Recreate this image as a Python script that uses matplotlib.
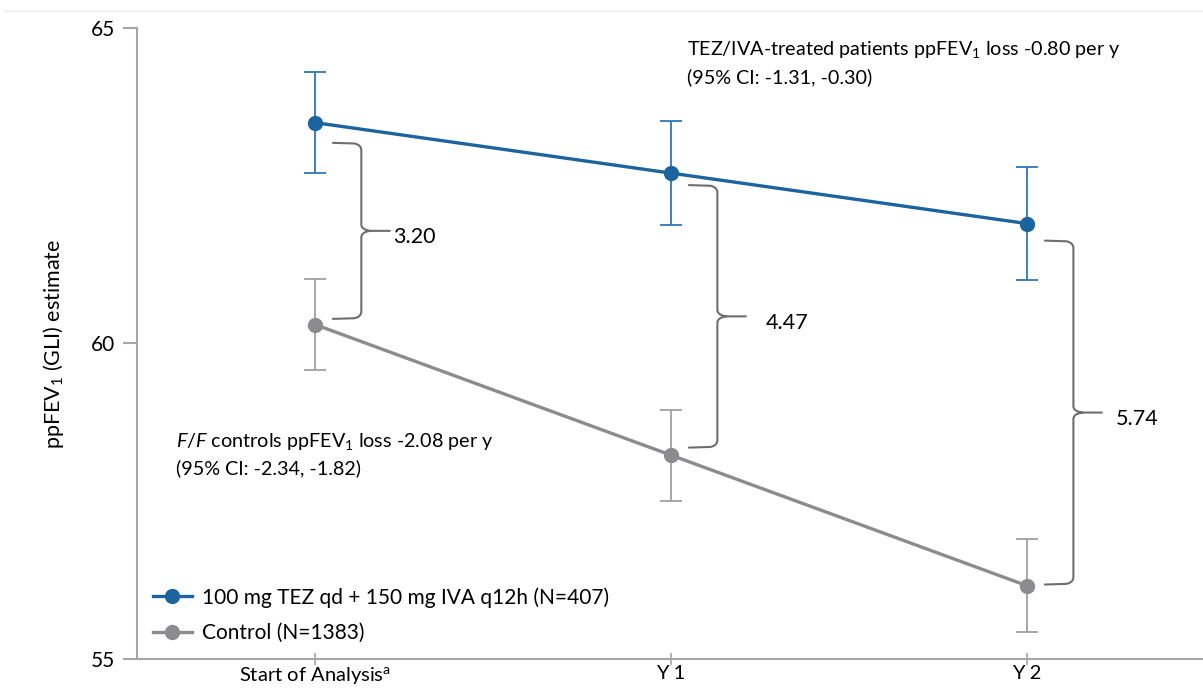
import matplotlib
matplotlib.use('Agg')
import numpy as np
import matplotlib.pyplot as plt
from matplotlib.path import Path
from matplotlib.patches import PathPatch
from matplotlib.lines import Line2D

plt.rcParams['font.family'] = ['Lato', 'DejaVu Sans']
plt.rcParams['mathtext.fontset'] = 'custom'
plt.rcParams['mathtext.rm'] = 'Lato'
plt.rcParams['mathtext.it'] = 'Lato:italic'

# estimates per visit
visits = ['Start of Analysis$^{\\mathrm{a}}$', 'Y 1', 'Y 2']
tez_iva = [63.50, 62.70, 61.90]
tez_iva_err = [0.80, 0.83, 0.90]
control = [60.30, 58.23, 56.16]
control_err = [0.72, 0.72, 0.74]
gaps = ['3.20', '4.47', '5.74']

blue = '#1c64a0'
blue_err = '#2e77b8'
grey = '#8c8c8f'
grey_err = '#a0a0a0'
axis_col = '#a6a6a6'

fig = plt.figure(figsize=(12.03, 6.88), dpi=100)
ax = fig.add_axes([0.1139, 0.0422, 0.8861, 0.9171])

x = np.arange(len(visits))

ax.errorbar(x, tez_iva, yerr=tez_iva_err, fmt='none', ecolor=blue_err,
            elinewidth=1.3, capsize=8, capthick=1.3, zorder=2)
ax.errorbar(x, control, yerr=control_err, fmt='none', ecolor=grey_err,
            elinewidth=1.3, capsize=8, capthick=1.3, zorder=2)
ax.plot(x, tez_iva, color=blue, lw=2.4, marker='o', ms=10, zorder=3,
        label='100 mg TEZ qd + 150 mg IVA q12h (N=407)')
ax.plot(x, control, color=grey, lw=2.4, marker='o', ms=10, zorder=3,
        label='Control (N=1383)')


def brace(ax, xc, top, bot, label, label_dx):
    x0 = xc + 0.05
    xv = xc + 0.13
    xt = xc + 0.21
    mid = (top + bot) / 2
    h = 0.10
    verts = [(x0, top), (xv - 0.02, top - 0.01), (xv, top - 0.03), (xv, top - 0.12),
             (xv, mid + h), (xv, mid + 0.02), (xv + 0.025, mid), (xt, mid),
             (xv + 0.025, mid), (xv, mid - 0.02), (xv, mid - h),
             (xv, bot + 0.12), (xv, bot + 0.03), (xv - 0.02, bot + 0.01), (x0, bot)]
    codes = [Path.MOVETO, Path.LINETO, Path.CURVE3, Path.CURVE3,
             Path.LINETO, Path.CURVE3, Path.CURVE3, Path.LINETO,
             Path.MOVETO, Path.CURVE3, Path.CURVE3,
             Path.LINETO, Path.CURVE3, Path.CURVE3, Path.LINETO]
    ax.add_patch(PathPatch(Path(verts, codes), fill=False, edgecolor='#6e6e6e',
                           lw=1.5, capstyle='round', zorder=2))
    ax.text(xt + label_dx, mid - 0.1, label, fontsize=15.5, va='center', ha='left')


offsets_top = [0.32, 0.19, 0.27]
offsets_bot = [0.09, 0.12, 0.02]
label_dx = [0.01, 0.055, 0.04]
for i in range(len(visits)):
    brace(ax, x[i], tez_iva[i] - offsets_top[i], control[i] + offsets_bot[i],
          gaps[i], label_dx[i])

ax.text(1.045, 64.82, 'TEZ/IVA-treated patients ppFEV$_{1}$ loss -0.80 per y\n(95% CI: -1.31, -0.30)',
        fontsize=14.2, va='top', ha='left', linespacing=1.5)
ax.text(-0.39, 58.62, '$\\it{F/F}$ controls ppFEV$_{1}$ loss -2.08 per y\n(95% CI: -2.34, -1.82)',
        fontsize=14.2, va='top', ha='left', linespacing=1.5)

ax.set_xlim(-0.5, 2.494)
ax.set_ylim(55, 65)
ax.set_yticks([55, 60, 65])
ax.set_xticks(x)
ax.set_xticklabels(visits)
ax.set_ylabel('ppFEV$_{1}$ (GLI) estimate', fontsize=15.5, labelpad=18)

for s in ['top', 'right']:
    ax.spines[s].set_visible(False)
for s in ['left', 'bottom']:
    ax.spines[s].set_color(axis_col)
    ax.spines[s].set_linewidth(1.5)
ax.tick_params(axis='y', direction='out', length=10, width=1.5, color=axis_col,
               labelsize=15, pad=6)
ax.tick_params(axis='x', direction='inout', length=9, width=1.2, color=axis_col,
               labelsize=14.5, pad=0)

leg = ax.legend(loc='lower left', bbox_to_anchor=(0.0, 0.0), frameon=False,
                fontsize=15, handlelength=1.9, handletextpad=0.45,
                labelspacing=0.75, borderaxespad=0.35)

fig.add_artist(Line2D([0.003, 1.0], [0.984, 0.984], color='#ececec', lw=1))

plt.savefig('out.png', dpi=100)
